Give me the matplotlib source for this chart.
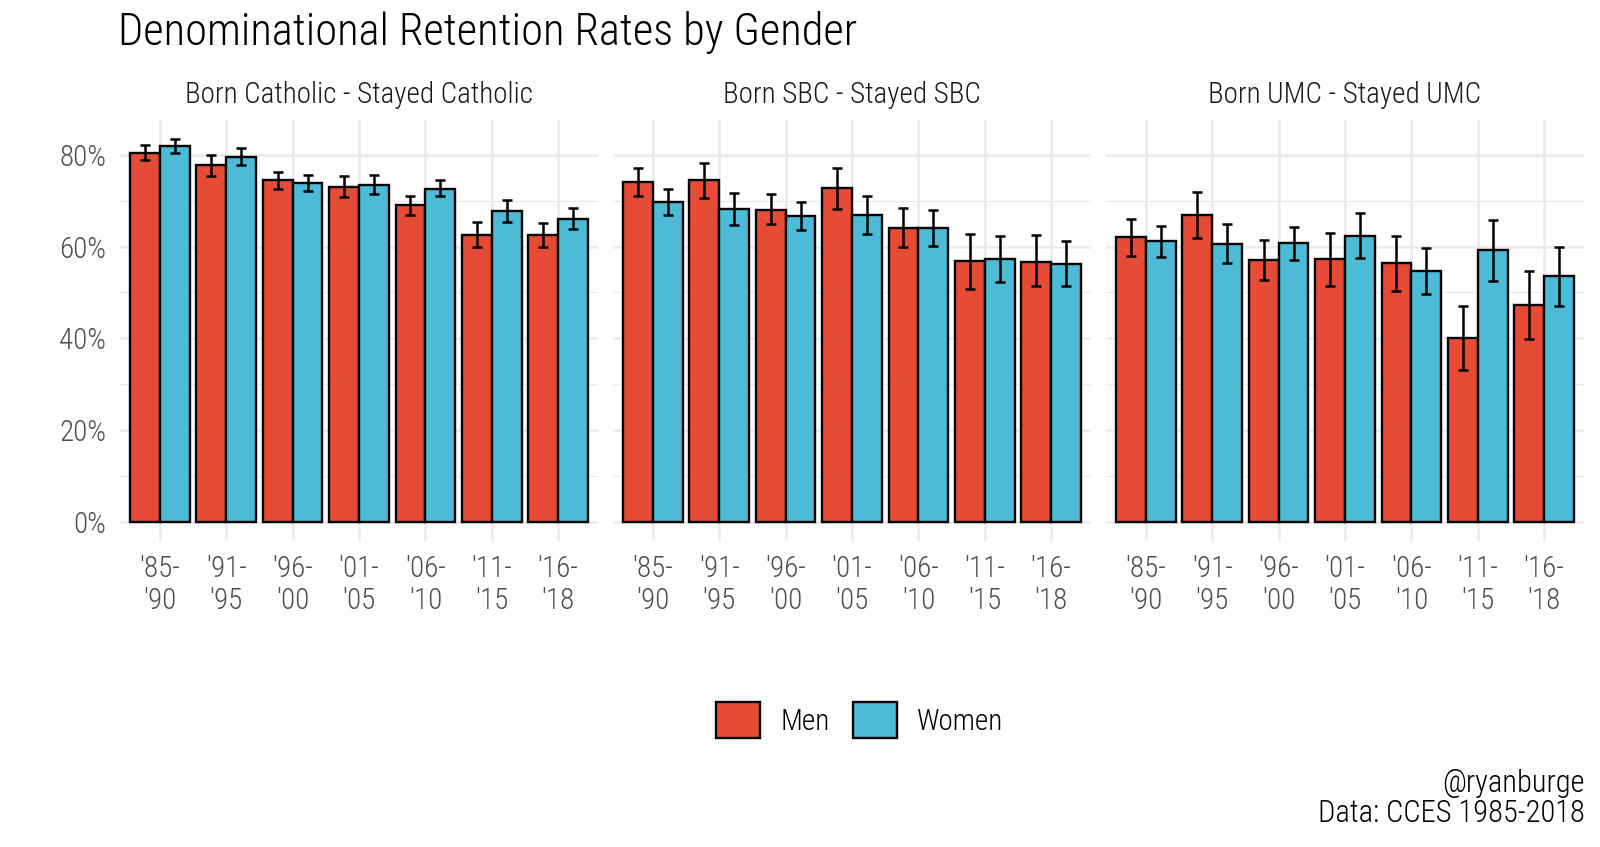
import matplotlib
matplotlib.use("Agg")
import matplotlib.pyplot as plt
from matplotlib import font_manager
from matplotlib.patches import Patch
import numpy as np

# datos (porcentajes)
periodos = ["'85-\n'90", "'91-\n'95", "'96-\n'00", "'01-\n'05", "'06-\n'10", "'11-\n'15", "'16-\n'18"]
paneles = ["Born Catholic - Stayed Catholic", "Born SBC - Stayed SBC", "Born UMC - Stayed UMC"]

cath_men = [80.4, 77.7, 74.4, 73.0, 69.0, 62.6, 62.5]
cath_men_lo = [78.9, 75.4, 72.6, 70.7, 66.9, 60.0, 60.0]
cath_men_hi = [82.2, 79.9, 76.2, 75.3, 71.1, 65.3, 65.2]
cath_women = [81.9, 79.6, 73.8, 73.5, 72.6, 67.7, 66.1]
cath_women_lo = [80.4, 77.7, 72.2, 71.4, 70.9, 65.3, 63.8]
cath_women_hi = [83.4, 81.5, 75.5, 75.6, 74.5, 70.1, 68.3]

sbc_men = [74.0, 74.4, 68.0, 72.8, 64.1, 56.8, 56.7]
sbc_men_lo = [71.1, 70.6, 64.8, 68.2, 59.9, 50.8, 51.3]
sbc_men_hi = [77.2, 78.1, 71.5, 77.2, 68.4, 62.8, 62.5]
sbc_women = [69.7, 68.2, 66.6, 66.9, 64.0, 57.3, 56.1]
sbc_women_lo = [66.9, 64.7, 63.6, 62.8, 60.1, 52.3, 51.3]
sbc_women_hi = [72.5, 71.6, 69.8, 71.1, 67.9, 62.3, 61.3]

umc_men = [62.0, 66.9, 57.0, 57.2, 56.3, 40.1, 47.3]
umc_men_lo = [57.9, 61.9, 52.8, 51.5, 50.3, 33.2, 39.9]
umc_men_hi = [66.1, 71.9, 61.4, 62.9, 62.3, 47.0, 54.7]
umc_women = [61.1, 60.6, 60.7, 62.4, 54.7, 59.2, 53.5]
umc_women_lo = [57.7, 56.5, 57.1, 57.5, 49.6, 52.4, 47.0]
umc_women_hi = [64.4, 64.8, 64.3, 67.4, 59.7, 65.8, 59.8]

color_men = '#E64B35'
color_women = '#4DBBD5'

# fuente condensada si existe
disponibles = {f.name for f in font_manager.fontManager.ttflist}
fuente = 'DejaVu Sans'
for nombre in ['Roboto Condensed', 'Liberation Sans Narrow', 'Open Sans Condensed', 'Roboto']:
    if nombre in disponibles:
        fuente = nombre
        break
plt.rcParams['font.family'] = [fuente, 'DejaVu Sans']
plt.rcParams['font.weight'] = 'light'

datos = [
    (cath_men, cath_men_lo, cath_men_hi, cath_women, cath_women_lo, cath_women_hi),
    (sbc_men, sbc_men_lo, sbc_men_hi, sbc_women, sbc_women_lo, sbc_women_hi),
    (umc_men, umc_men_lo, umc_men_hi, umc_women, umc_women_lo, umc_women_hi),
]

tope = max(max(d[2] + d[5]) for d in datos)
ylim = (-0.05 * tope, 1.05 * tope)

fig = plt.figure(figsize=(16, 8.47), dpi=100)
W, H = 1600, 847
lefts = [120, 613, 1106]
panel_w = 478
panel_top, panel_bot = 120, 541

x = np.arange(1, len(periodos) + 1)
ancho = 0.45
grid_col = '#EBEBEB'

for i, (left_px, titulo, d) in enumerate(zip(lefts, paneles, datos)):
    men, men_lo, men_hi, women, women_lo, women_hi = d
    ax = fig.add_axes([left_px / W, (H - panel_bot) / H, panel_w / W, (panel_bot - panel_top) / H])
    ax.set_xlim(0.4, len(periodos) + 0.6)
    ax.set_ylim(*ylim)
    for s in ax.spines.values():
        s.set_visible(False)

    # rejilla
    for yv in [10, 30, 50, 70]:
        ax.axhline(yv, color=grid_col, lw=1.0, zorder=0)
    for yv in [0, 20, 40, 60, 80]:
        ax.axhline(yv, color=grid_col, lw=1.8, zorder=0)
    for xv in x:
        ax.axvline(xv, color=grid_col, lw=1.8, zorder=0)

    ax.bar(x - ancho / 2, men, ancho, color=color_men, edgecolor='black', linewidth=1.7, zorder=2)
    ax.bar(x + ancho / 2, women, ancho, color=color_women, edgecolor='black', linewidth=1.7, zorder=2)

    m = np.array(men); mlo = np.array(men_lo); mhi = np.array(men_hi)
    w = np.array(women); wlo = np.array(women_lo); whi = np.array(women_hi)
    ax.errorbar(x - ancho / 2, m, yerr=[m - mlo, mhi - m], fmt='none', ecolor='black',
                elinewidth=1.8, capsize=3.5, capthick=1.8, zorder=3)
    ax.errorbar(x + ancho / 2, w, yerr=[w - wlo, whi - w], fmt='none', ecolor='black',
                elinewidth=1.8, capsize=3.5, capthick=1.8, zorder=3)

    ax.set_xticks(x)
    ax.set_xticklabels(periodos, fontsize=21, color='#4D4D4D', linespacing=1.2)
    ax.set_yticks([0, 20, 40, 60, 80])
    if i == 0:
        ax.set_yticklabels(['0%', '20%', '40%', '60%', '80%'], fontsize=21, color='#4D4D4D')
    else:
        ax.set_yticklabels([])
    ax.tick_params(axis='x', length=0, pad=10)
    ax.tick_params(axis='y', length=0, pad=10)

    fig.text((left_px + panel_w / 2) / W, (H - 95) / H, titulo, ha='center', va='center',
             fontsize=21, color='#1A1A1A')

fig.text(118 / W, (H - 32) / H, 'Denominational Retention Rates by Gender', ha='left', va='center',
         fontsize=32, color='black')

handles = [Patch(facecolor=color_men, edgecolor='black', linewidth=1.7, label='Men'),
           Patch(facecolor=color_women, edgecolor='black', linewidth=1.7, label='Women')]
fig.legend(handles=handles, loc='center', bbox_to_anchor=(860 / W, (H - 720) / H), ncol=2,
           frameon=False, fontsize=21, handlelength=1.5, handleheight=1.5,
           handletextpad=0.7, columnspacing=0.8, labelcolor='black')

fig.text(1585 / W, (H - 783) / H, '@ryanburge', ha='right', va='center', fontsize=22)
fig.text(1585 / W, (H - 813) / H, 'Data: CCES 1985-2018', ha='right', va='center', fontsize=22)

fig.savefig('out.png', dpi=100, facecolor='white')
